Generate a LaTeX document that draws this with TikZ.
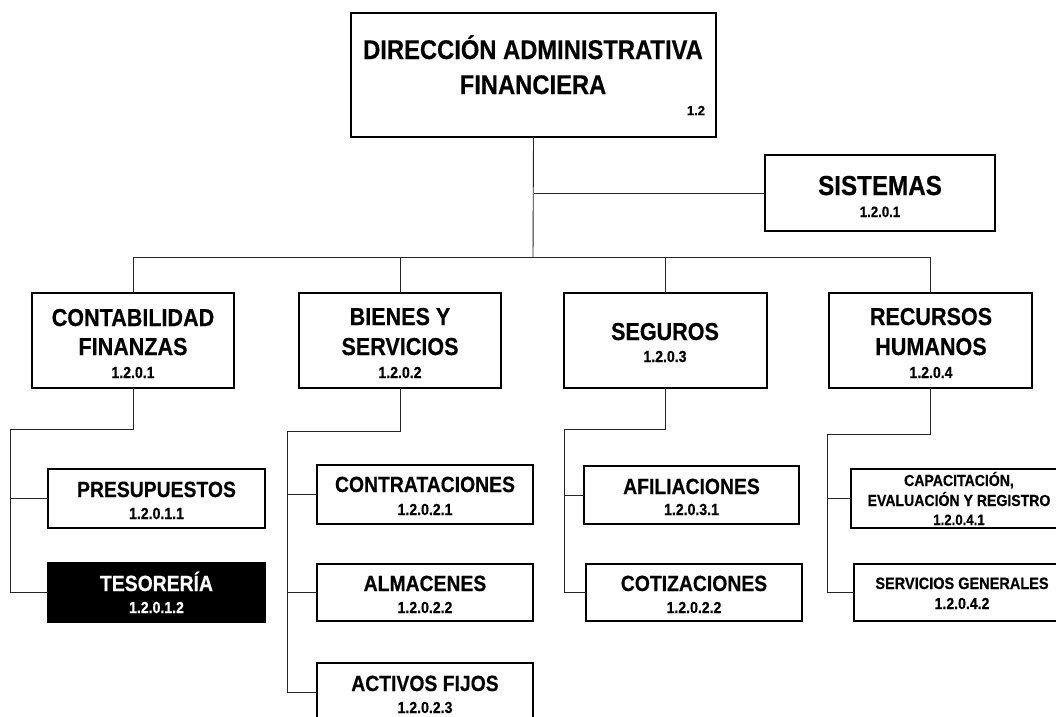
\documentclass[tikz,border=0pt]{standalone}
\usepackage{fontspec}
\setmainfont{Liberation Sans}[FakeStretch=0.88, BoldFeatures={FakeBold=0.4}]
\newfontfamily\plainfont{Liberation Sans}[BoldFeatures={FakeBold=0.4}]
\begin{document}
\begin{tikzpicture}[x=1pt,y=-1pt,
  box/.style={draw=black, line width=1.1pt, inner sep=0pt, outer sep=0pt, fill=white},
  dark/.style={box, fill=black},
  conn/.style={draw=black!85, line width=0.9pt},
  lbl/.style={anchor=base, inner sep=0pt, outer sep=0pt, font=\bfseries},
  ftitle/.style={lbl, font=\bfseries\fontsize{27}{30}\selectfont},
  fsis/.style={lbl, font=\bfseries\fontsize{27.5}{32}\selectfont},
  fmid/.style={lbl, font=\bfseries\fontsize{24.5}{28}\selectfont},
  fsub/.style={lbl, font=\bfseries\fontsize{22}{26}\selectfont},
  fsmall/.style={lbl, font=\bfseries\fontsize{16}{19}\selectfont},
  fcode/.style={lbl, font=\bfseries\fontsize{16}{18}\selectfont},
  fcodes/.style={lbl, font=\bfseries\fontsize{15}{17}\selectfont},
  fcodet/.style={lbl, font=\plainfont\bfseries\fontsize{13}{15}\selectfont}
]
\useasboundingbox (0,0) rectangle (1056,716);
\clip (0,0) rectangle (1056,716);

% ---------- boxes ----------
\node[box, minimum width=365pt, minimum height=124pt] (dir) at (533.5,75) {};
\node[box, minimum width=230pt, minimum height=76pt] (sis) at (880,193) {};
\node[box, minimum width=202pt, minimum height=95pt] (contab) at (133,340.5) {};
\node[box, minimum width=202pt, minimum height=95pt] (bienes) at (400,340.5) {};
\node[box, minimum width=203pt, minimum height=95pt] (seguros) at (665.5,340.5) {};
\node[box, minimum width=203pt, minimum height=95pt] (rrhh) at (930.5,340.5) {};
\node[box, minimum width=217pt, minimum height=59pt] (presup) at (156.5,498.5) {};
\node[dark, minimum width=217pt, minimum height=59pt] (teso) at (156.5,592.5) {};
\node[box, minimum width=216pt, minimum height=59pt] (contrat) at (425,494.5) {};
\node[box, minimum width=216pt, minimum height=57pt] (almac) at (425,592.5) {};
\node[box, minimum width=216pt, minimum height=59pt] (activos) at (425,692.5) {};
\node[box, minimum width=215pt, minimum height=58pt] (afil) at (691.5,495) {};
\node[box, minimum width=216pt, minimum height=57pt] (cotiz) at (694,592.5) {};
\node[box, minimum width=218pt, minimum height=59pt] (capac) at (960,498.5) {};
\node[box, minimum width=218pt, minimum height=57pt] (servg) at (963,592.5) {};

% ---------- connectors ----------
\coordinate (bus) at (533,257);
\coordinate (ca) at (10,429);
\coordinate (cb) at (287,431);
\coordinate (cc) at (564,429);
\coordinate (cd) at (827,434);

\draw[conn] (dir.south) -- (bus);
\draw[conn] (dir.south |- sis.west) -- (sis.west);
\draw[conn] (contab.north) -- (contab.north |- bus) -- (rrhh.north |- bus) -- (rrhh.north);
\draw[conn] (bienes.north) -- (bienes.north |- bus);
\draw[conn] (seguros.north) -- (seguros.north |- bus);

\draw[conn] (contab.south) -- (contab.south |- ca) -- (ca) -- (ca |- teso.west) -- (teso.west);
\draw[conn] (ca |- presup.west) -- (presup.west);

\draw[conn] (bienes.south) -- (bienes.south |- cb) -- (cb) -- (cb |- activos.west) -- (activos.west);
\draw[conn] (cb |- contrat.west) -- (contrat.west);
\draw[conn] (cb |- almac.west) -- (almac.west);

\draw[conn] (seguros.south) -- (seguros.south |- cc) -- (cc) -- (cc |- cotiz.west) -- (cotiz.west);
\draw[conn] (cc |- afil.west) -- (afil.west);

\draw[conn] (rrhh.south) -- (rrhh.south |- cd) -- (cd) -- (cd |- servg.west) -- (servg.west);
\draw[conn] (cd |- capac.west) -- (capac.west);

% ---------- texts ----------
\node[ftitle] (dir-t1) at (533,59) {DIRECCIÓN ADMINISTRATIVA};
\node[ftitle] (dir-t2) at (533,94) {FINANCIERA};
\node[fcodet, anchor=base east] (dir-c) at (705,115) {1.2};

\node[fsis] (sis-t) at (880,195) {SISTEMAS};
\node[fcodes] (sis-c) at (880,217) {1.2.0.1};

\node[fmid] (contab-t1) at (133,326) {CONTABILIDAD};
\node[fmid] (contab-t2) at (133,355) {FINANZAS};
\node[fcode] (contab-c) at (133,378) {1.2.0.1};

\node[fmid] (bienes-t1) at (400,325) {BIENES Y};
\node[fmid] (bienes-t2) at (400,355) {SERVICIOS};
\node[fcode] (bienes-c) at (400,378) {1.2.0.2};

\node[fmid] (seguros-t) at (665,340) {SEGUROS};
\node[fcode] (seguros-c) at (665,362) {1.2.0.3};

\node[fmid] (rrhh-t1) at (931,325) {RECURSOS};
\node[fmid] (rrhh-t2) at (931,355) {HUMANOS};
\node[fcode] (rrhh-c) at (931,378) {1.2.0.4};

\node[fsub] (presup-t) at (156.5,497) {PRESUPUESTOS};
\node[fcode] (presup-c) at (156.5,519) {1.2.0.1.1};

\node[fsub, text=white] (teso-t) at (156.5,591) {TESORERÍA};
\node[fcode, text=white] (teso-c) at (156.5,613) {1.2.0.1.2};

\node[fsub] (contrat-t) at (425,492) {CONTRATACIONES};
\node[fcode] (contrat-c) at (425,515) {1.2.0.2.1};

\node[fsub] (almac-t) at (425,591) {ALMACENES};
\node[fcode] (almac-c) at (425,613) {1.2.0.2.2};

\node[fsub] (activos-t) at (425,691) {ACTIVOS FIJOS};
\node[fcode] (activos-c) at (425,713) {1.2.0.2.3};

\node[fsub] (afil-t) at (691.5,494) {AFILIACIONES};
\node[fcode] (afil-c) at (691.5,515) {1.2.0.3.1};

\node[fsub] (cotiz-t) at (694,591) {COTIZACIONES};
\node[fcode] (cotiz-c) at (694,613) {1.2.0.2.2};

\node[fsmall] (capac-t1) at (959,486) {CAPACITACIÓN,};
\node[fsmall] (capac-t2) at (959,506) {EVALUACIÓN Y REGISTRO};
\node[fcodes] (capac-c) at (959,525) {1.2.0.4.1};

\node[fsmall, font=\bfseries\fontsize{16.5}{20}\selectfont] (servg-t) at (962,589) {SERVICIOS GENERALES};
\node[fcode] (servg-c) at (962,609) {1.2.0.4.2};
\end{tikzpicture}
\end{document}
